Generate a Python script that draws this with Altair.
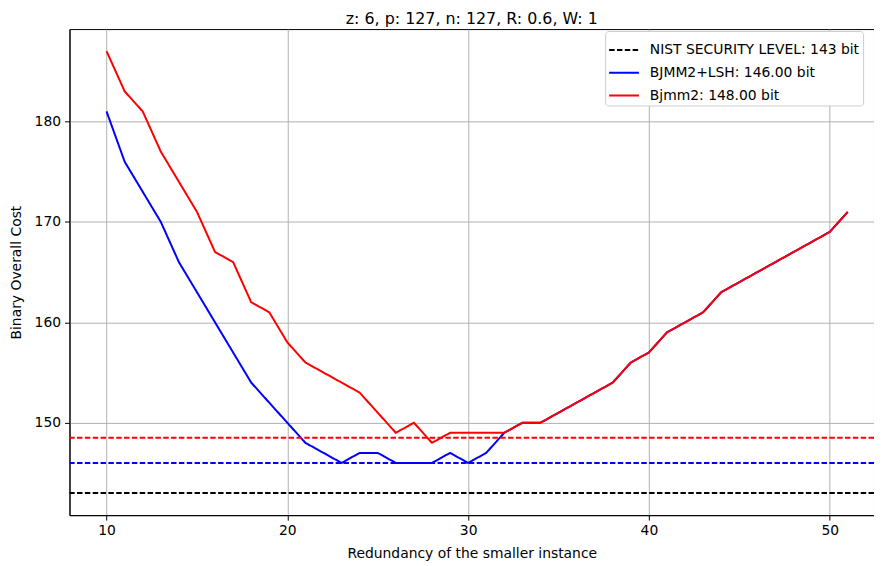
import altair as alt
import pandas as pd

# ---- data ----
redundancy = list(range(10, 52))
bjmm2_lsh = [181, 176, 173, 170, 166, 163, 160, 157, 154, 152, 150, 148, 147, 146, 147, 147,
             146, 146, 146, 147, 146, 147, 149, 150, 150, 151, 152, 153, 154, 156, 157, 159,
             160, 161, 163, 164, 165, 166, 167, 168, 169, 171]
bjmm2 = [187, 183, 181, 177, 174, 171, 167, 166, 162, 161, 158, 156, 155, 154, 153, 151,
         149, 150, 148, 149, 149, 149, 149, 150, 150, 151, 152, 153, 154, 156, 157, 159,
         160, 161, 163, 164, 165, 166, 167, 168, 169, 171]

series_names = ["NIST SECURITY LEVEL: 143 bit", "BJMM2+LSH: 146.00 bit", "Bjmm2: 148.00 bit"]
series_colors = ["black", "blue", "red"]
nist_level = [143]
blue_min_level = [146]
red_min_level = [148.5]

title_text = "z: 6, p: 127, n: 127, R: 0.6, W: 1"
x_title = "Redundancy of the smaller instance"
y_title = "Binary Overall Cost"
x_ticks = [10, 20, 30, 40, 50]
y_ticks = [150, 160, 170, 180]

FONT = "DejaVu Sans"
DASH = [5.5, 2.4]

lines_df = pd.DataFrame({
    "x": redundancy * 2,
    "y": bjmm2_lsh + bjmm2,
    "series": [series_names[1]] * len(redundancy) + [series_names[2]] * len(redundancy),
})
nist_df = pd.DataFrame({"y": nist_level, "series": [series_names[0]]})
blue_df = pd.DataFrame({"y": blue_min_level})
red_df = pd.DataFrame({"y": red_min_level})

x_scale = alt.Scale(domain=[7.95, 52.45], nice=False, zero=False)
y_scale = alt.Scale(domain=[140.8, 189.2], nice=False, zero=False)

legend = alt.Legend(title=None, orient="none", legendX=540, legendY=2,
                    symbolType="stroke", symbolSize=900, symbolStrokeWidth=2,
                    labelFontSize=14, labelFont=FONT, labelColor="black",
                    labelOffset=10, rowPadding=-8, padding=3, labelLimit=400,
                    fillColor="white", strokeColor="#cccccc", cornerRadius=3)

color = alt.Color("series:N", scale=alt.Scale(domain=series_names, range=series_colors), legend=legend)
dash = alt.StrokeDash("series:N", scale=alt.Scale(domain=series_names, range=[DASH, [1, 0], [1, 0]]),
                      legend=legend)

x_axis = alt.Axis(values=x_ticks, format="d", title=x_title, titlePadding=9)
y_axis = alt.Axis(values=y_ticks, format="d", title=y_title, titlePadding=11)

nist = alt.Chart(nist_df).mark_rule(strokeWidth=2).encode(
    y=alt.Y("y:Q", scale=y_scale, axis=y_axis), color=color, strokeDash=dash)

lines = alt.Chart(lines_df).mark_line(strokeWidth=2).encode(
    x=alt.X("x:Q", scale=x_scale, axis=x_axis),
    y=alt.Y("y:Q", scale=y_scale, axis=y_axis),
    color=color, strokeDash=dash)

blue_rule = alt.Chart(blue_df).mark_rule(strokeWidth=2, color="blue", strokeDash=DASH).encode(
    y=alt.Y("y:Q", scale=y_scale))
red_rule = alt.Chart(red_df).mark_rule(strokeWidth=2, color="red", strokeDash=DASH).encode(
    y=alt.Y("y:Q", scale=y_scale))

chart = alt.layer(nist, lines, blue_rule, red_rule).properties(
    width=811, height=490,
    padding={"left": 62, "top": 19, "right": 0, "bottom": 48},
    autosize=alt.AutoSizeParams(type="none"),
    title=alt.TitleParams(title_text, font=FONT, fontSize=16, fontWeight="normal",
                          color="black", anchor="middle", offset=2),
).configure_view(stroke="black", strokeWidth=1).configure_axis(
    labelFont=FONT, titleFont=FONT, labelFontSize=14, titleFontSize=14,
    titleFontWeight="normal", labelColor="black", titleColor="black",
    tickColor="black", tickSize=5, labelPadding=4, domainColor="black",
    gridColor="#b0b0b0", gridWidth=1, grid=True,
)

chart.save("out.html", embed_options={"renderer": "svg", "actions": False})
